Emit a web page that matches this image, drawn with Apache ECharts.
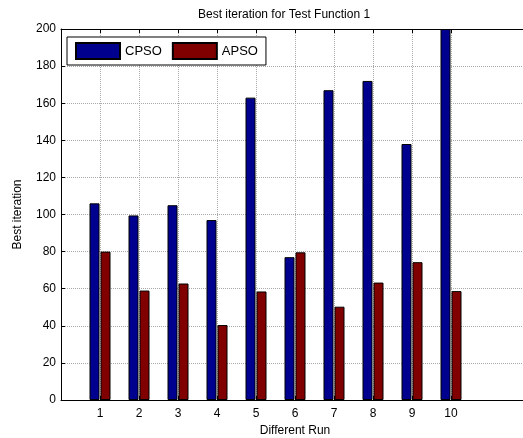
<!DOCTYPE html>
<html><head><meta charset="utf-8">
<script src="https://cdn.jsdelivr.net/npm/echarts@6/dist/echarts.min.js"></script>
<style>html,body{margin:0;padding:0;background:#fff}#c{width:523px;height:438px}</style>
</head><body><div id="c"></div>
<script>
const runs = ['1','2','3','4','5','6','7','8','9','10'];
const cpso = [106, 99.5, 105, 97, 163, 77, 167, 172, 138, 200];
const apso = [80, 59, 62.8, 40.4, 58.5, 79.6, 50.3, 63.3, 74.3, 58.7];
const yTicks = [0,20,40,60,80,100,120,140,160,180,200];

// padded category axis: one empty slot before and two after (MATLAB x-limits 0..12)
const axisCats = [''].concat(runs, ['', '']);
const pad = arr => [null].concat(arr, [null, null]);
const F = 'Liberation Sans, Arial, sans-serif';
const showTick = (i, v) => v !== '';

const chart = echarts.init(document.getElementById('c'), null, {renderer: 'canvas'});
chart.setOption({
  animation: false,
  backgroundColor: '#fff',
  title: {
    text: 'Best iteration for Test Function 1',
    left: 193, top: 4,
    textStyle: {fontFamily: F, fontSize: 12, fontWeight: 'normal', color: '#000'}
  },
  legend: {
    left: 67, top: 37,
    orient: 'horizontal', icon: 'rect',
    itemWidth: 44, itemHeight: 16, itemGap: 10,
    padding: [5, 8, 5, 8],
    borderColor: '#000', borderWidth: 1, backgroundColor: '#fff',
    textStyle: {fontFamily: F, fontSize: 13, color: '#000'},
    data: ['CPSO', 'APSO']
  },
  grid: {left: 61, top: 29, width: 468, height: 371, containLabel: false, outerBoundsMode: 'none'},
  xAxis: [{
    type: 'category', data: axisCats, boundaryGap: false, position: 'bottom',
    name: 'Different Run', nameLocation: 'middle', nameGap: 25,
    nameTextStyle: {fontFamily: F, fontSize: 12, color: '#000'},
    axisLine: {show: true, lineStyle: {color: '#000', width: 1}},
    axisTick: {show: true, inside: true, length: 4, interval: showTick, lineStyle: {color: '#000'}},
    axisLabel: {fontFamily: F, fontSize: 12, color: '#000', margin: 8, interval: 0},
    splitLine: {show: true, interval: showTick, lineStyle: {color: '#aaa', type: 'dotted', width: 1}}
  }, {
    type: 'category', data: axisCats, boundaryGap: false, position: 'top',
    axisLine: {show: true, lineStyle: {color: '#000', width: 1}},
    axisTick: {show: true, inside: true, length: 4, interval: showTick, lineStyle: {color: '#000'}},
    axisLabel: {show: false},
    splitLine: {show: false}
  }],
  yAxis: {
    type: 'value', min: yTicks[0], max: yTicks[yTicks.length - 1], interval: 20,
    name: 'Best iteration', nameLocation: 'middle', nameGap: 37,
    nameTextStyle: {fontFamily: F, fontSize: 12, color: '#000'},
    axisLine: {show: true, lineStyle: {color: '#000', width: 1}},
    axisTick: {show: true, inside: true, length: 4, lineStyle: {color: '#000'}},
    axisLabel: {fontFamily: F, fontSize: 12, color: '#000', margin: 5},
    splitLine: {show: true, lineStyle: {color: '#aaa', type: 'dotted', width: 1}}
  },
  series: [{
    name: 'CPSO', type: 'bar', data: pad(cpso), barWidth: 10, barGap: '10%',
    itemStyle: {color: '#00008F', borderColor: '#000', borderWidth: 1}
  }, {
    name: 'APSO', type: 'bar', data: pad(apso), barWidth: 10, barGap: '10%',
    itemStyle: {color: '#800000', borderColor: '#000', borderWidth: 1}
  }]
});
</script></body></html>
